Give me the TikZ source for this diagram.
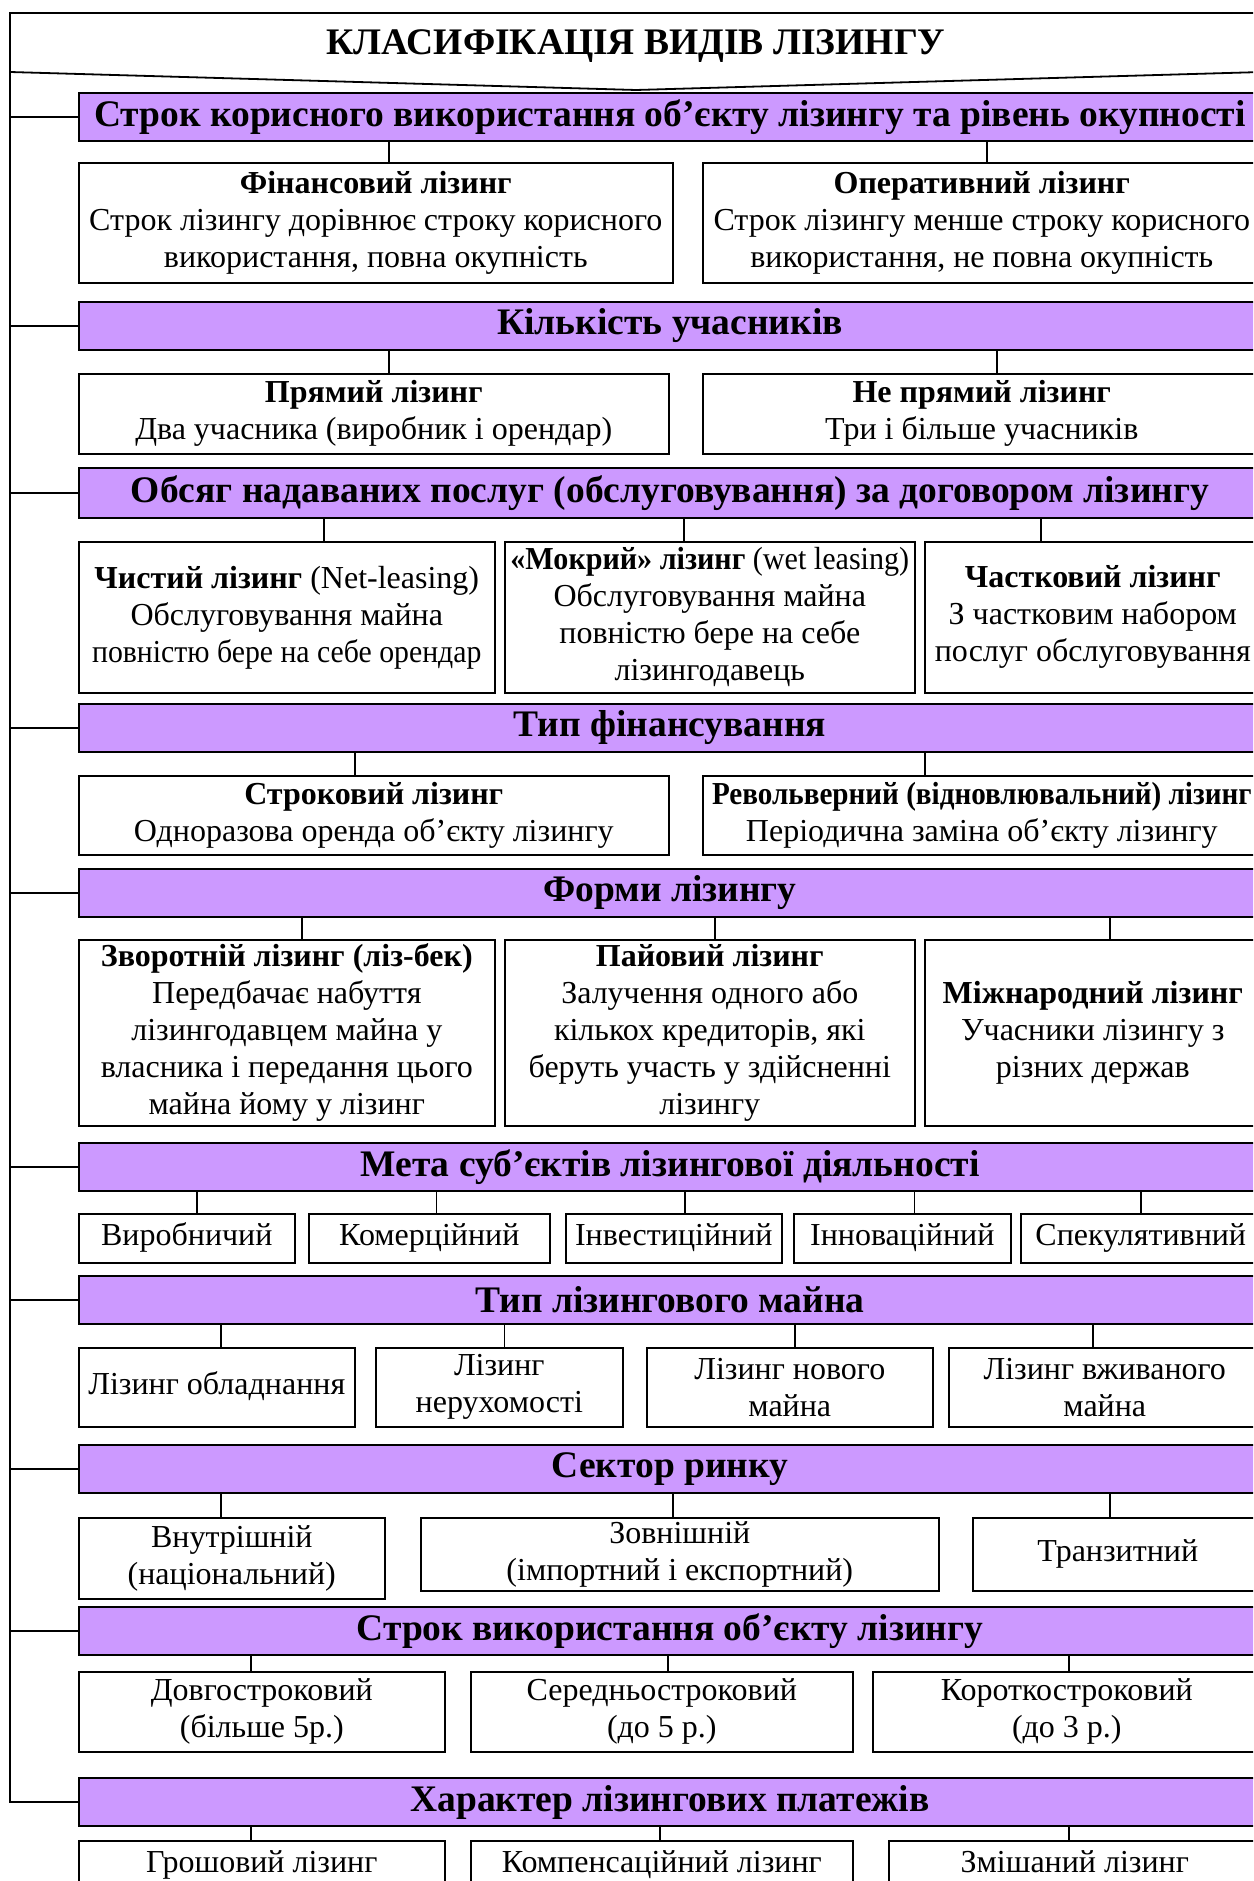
\documentclass[tikz,border=0pt]{standalone}
\usepackage{fontspec}
\setmainfont{Liberation Serif}
\definecolor{lilac}{HTML}{CC99FF}

\begin{document}
\begin{tikzpicture}[x=1pt,y=-1pt,
    hdr/.style={draw,line width=2pt,fill=lilac,anchor=north west,inner sep=0pt,
        minimum width=1182pt,minimum height=48pt,font=\fontsize{37.5}{43}\selectfont\bfseries},
    box/.style={draw,line width=1.6pt,anchor=north west,inner sep=0pt,align=center,
        font=\fontsize{32}{37}\selectfont},
    single/.style={text height=22pt,text depth=7pt},
    link/.style={line width=1.4pt}]
    \useasboundingbox (0,0) rectangle (1253,1881);
    \clip (0,0) rectangle (1253,1881);

    % title
    \draw[line width=1.8pt] (10,13) -- (1262,13) -- (1262,72) -- (636,90) -- (10,72) -- cycle;
    \node[anchor=base,font=\fontsize{37.5}{43}\selectfont\bfseries] (title) at (636,55) {КЛАСИФІКАЦІЯ ВИДІВ ЛІЗИНГУ};
    \coordinate (sp) at (10,72);

    % headers
    \node[hdr] (h1) at (78,92) {Строк корисного використання об’єкту лізингу та рівень окупності};
    \node[hdr] (h2) at (78,301) {Кількість учасників};
    \node[hdr,minimum height=50pt] (h3) at (78,467) {Обсяг надаваних послуг (обслуговування) за договором лізингу};
    \node[hdr] (h4) at (78,703) {Тип фінансування};
    \node[hdr] (h5) at (78,868) {Форми лізингу};
    \node[hdr] (h6) at (78,1142) {Мета суб’єктів лізингової діяльності};
    \node[hdr] (h7) at (78,1275) {Тип лізингового майна};
    \node[hdr] (h8) at (78,1444) {Сектор ринку};
    \node[hdr] (h9) at (78,1606) {Строк використання об’єкту лізингу};
    \node[hdr] (h10) at (78,1777) {Характер лізингових платежів};

    % spine
    \draw[link] (sp) |- (h10.west);
    \draw[link] (sp |- h1.west) -- (h1.west);
    \draw[link] (sp |- h2.west) -- (h2.west);
    \draw[link] (sp |- h3.west) -- (h3.west);
    \draw[link] (sp |- h4.west) -- (h4.west);
    \draw[link] (sp |- h5.west) -- (h5.west);
    \draw[link] (sp |- h6.west) -- (h6.west);
    \draw[link] (sp |- h7.west) -- (h7.west);
    \draw[link] (sp |- h8.west) -- (h8.west);
    \draw[link] (sp |- h9.west) -- (h9.west);

    % row 1
    \node[box,minimum width=594pt,minimum height=120pt] (a1) at (78,162) {\textbf{Фінансовий лізинг}\\Строк лізингу дорівнює строку корисного\\використання, повна окупність};
    \node[box,minimum width=558pt,minimum height=120pt] (a2) at (702,162) {\textbf{Оперативний лізинг}\\Строк лізингу менше строку корисного\\використання, не повна окупність};
    \draw[link] ([xshift=13pt]a1.north) -- ([xshift=13pt]a1.north |- h1.south);
    \draw[link] ([xshift=5pt]a2.north) -- ([xshift=5pt]a2.north |- h1.south);

    % row 2
    \node[box,minimum width=590pt,minimum height=80pt] (b1) at (78,373) {\textbf{Прямий лізинг}\\Два учасника (виробник і орендар)};
    \node[box,minimum width=558pt,minimum height=80pt] (b2) at (702,373) {\textbf{Не прямий лізинг}\\Три і більше учасників};
    \draw[link] ([xshift=15pt]b1.north) -- ([xshift=15pt]b1.north |- h2.south);
    \draw[link] ([xshift=15pt]b2.north) -- ([xshift=15pt]b2.north |- h2.south);

    % row 3
    \node[box,minimum width=416pt,minimum height=151pt] (c1) at (78,541) {\textbf{Чистий лізинг} (Net-leasing)\\Обслуговування майна\\\scalebox{0.93}[1]{повністю бере на себе орендар}};
    \node[box,minimum width=410pt,minimum height=151pt] (c2) at (504,541) {\scalebox{0.94}[1]{\textbf{«Мокрий» лізинг} (wet leasing)}\\Обслуговування майна\\повністю бере на себе\\лізингодавець};
    \node[box,minimum width=336pt,minimum height=151pt] (c3) at (924,541) {\textbf{Частковий лізинг}\\З частковим набором\\послуг обслуговування};
    \draw[link] ([xshift=37pt]c1.north) -- ([xshift=37pt]c1.north |- h3.south);
    \draw[link] ([xshift=-26pt]c2.north) -- ([xshift=-26pt]c2.north |- h3.south);
    \draw[link] ([xshift=-52pt]c3.north) -- ([xshift=-52pt]c3.north |- h3.south);

    % row 4
    \node[box,minimum width=590pt,minimum height=79pt] (d1) at (78,775) {\textbf{Строковий лізинг}\\Одноразова оренда об’єкту лізингу};
    \node[box,minimum width=558pt,minimum height=79pt] (d2) at (702,775) {\scalebox{0.91}[1]{\textbf{Револьверний (відновлювальний) лізинг}}\\Періодична заміна об’єкту лізингу};
    \draw[link] ([xshift=-19pt]d1.north) -- ([xshift=-19pt]d1.north |- h4.south);
    \draw[link] ([xshift=-57pt]d2.north) -- ([xshift=-57pt]d2.north |- h4.south);

    % row 5
    \node[box,minimum width=416pt,minimum height=186pt] (e1) at (78,939) {\textbf{Зворотній лізинг (ліз-бек)}\\Передбачає набуття\\лізингодавцем майна у\\власника і передання цього\\майна йому у лізинг};
    \node[box,minimum width=410pt,minimum height=186pt] (e2) at (504,939) {\textbf{Пайовий лізинг}\\Залучення одного або\\кількох кредиторів, які\\беруть участь у здійсненні\\лізингу};
    \node[box,minimum width=336pt,minimum height=186pt] (e3) at (924,939) {\textbf{Міжнародний лізинг}\\Учасники лізингу з\\різних держав};
    \draw[link] ([xshift=15pt]e1.north) -- ([xshift=15pt]e1.north |- h5.south);
    \draw[link] ([xshift=5pt]e2.north) -- ([xshift=5pt]e2.north |- h5.south);
    \draw[link] ([xshift=17pt]e3.north) -- ([xshift=17pt]e3.north |- h5.south);

    % row 6
    \node[box,single,minimum width=216pt,minimum height=49pt] (f1) at (78,1213) {Виробничий};
    \node[box,single,minimum width=241pt,minimum height=49pt] (f2) at (308,1213) {Комерційний};
    \node[box,single,minimum width=216pt,minimum height=49pt] (f3) at (565,1213) {Інвестиційний};
    \node[box,single,minimum width=217pt,minimum height=49pt] (f4) at (793,1213) {Інноваційний};
    \node[box,single,minimum width=240pt,minimum height=49pt] (f5) at (1020,1213) {Спекулятивний};
    \draw[link] ([xshift=10pt]f1.north) -- ([xshift=10pt]f1.north |- h6.south);
    \draw[link] ([xshift=7pt]f2.north) -- ([xshift=7pt]f2.north |- h6.south);
    \draw[link] ([xshift=11pt]f3.north) -- ([xshift=11pt]f3.north |- h6.south);
    \draw[link] ([xshift=12pt]f4.north) -- ([xshift=12pt]f4.north |- h6.south);
    \draw[link] (f5.north) -- (f5.north |- h6.south);

    % row 7
    \node[box,single,minimum width=276pt,minimum height=79pt] (g1) at (78,1347) {Лізинг обладнання};
    \node[box,minimum width=247pt,minimum height=79pt] (g2) at (375,1347) {Лізинг\\нерухомості};
    \node[box,minimum width=286pt,minimum height=79pt] (g3) at (646,1347) {Лізинг нового\\майна};
    \node[box,minimum width=312pt,minimum height=79pt] (g4) at (948,1347) {Лізинг вживаного\\майна};
    \draw[link] ([xshift=4pt]g1.north) -- ([xshift=4pt]g1.north |- h7.south);
    \draw[link] ([xshift=5pt]g2.north) -- ([xshift=5pt]g2.north |- h7.south);
    \draw[link] ([xshift=5pt]g3.north) -- ([xshift=5pt]g3.north |- h7.south);
    \draw[link] ([xshift=-12pt]g4.north) -- ([xshift=-12pt]g4.north |- h7.south);

    % row 8
    \node[box,minimum width=306pt,minimum height=81pt] (k1) at (78,1517) {Внутрішній\\(національний)};
    \node[box,minimum width=518pt,minimum height=73pt] (k2) at (420,1517) {Зовнішній\\(імпортний і експортний)};
    \node[box,single,minimum width=290pt,minimum height=73pt] (k3) at (972,1517) {Транзитний};
    \draw[link] ([xshift=-11pt]k1.north) -- ([xshift=-11pt]k1.north |- h8.south);
    \draw[link] ([xshift=-7pt]k2.north) -- ([xshift=-7pt]k2.north |- h8.south);
    \draw[link] ([xshift=-8pt]k3.north) -- ([xshift=-8pt]k3.north |- h8.south);

    % row 9
    \node[box,minimum width=366pt,minimum height=80pt] (l1) at (78,1671) {Довгостроковий\\(більше 5р.)};
    \node[box,minimum width=382pt,minimum height=80pt] (l2) at (470,1671) {Середньостроковий\\(до 5 р.)};
    \node[box,minimum width=388pt,minimum height=80pt] (l3) at (872,1671) {Короткостроковий\\(до 3 р.)};
    \draw[link] ([xshift=-11pt]l1.north) -- ([xshift=-11pt]l1.north |- h9.south);
    \draw[link] ([xshift=6pt]l2.north) -- ([xshift=6pt]l2.north |- h9.south);
    \draw[link] ([xshift=2pt]l3.north) -- ([xshift=2pt]l3.north |- h9.south);

    % row 10
    \node[box,single,minimum width=366pt,minimum height=49pt] (m1) at (78,1840) {Грошовий лізинг};
    \node[box,single,minimum width=382pt,minimum height=49pt] (m2) at (470,1840) {Компенсаційний лізинг};
    \node[box,single,minimum width=372pt,minimum height=49pt] (m3) at (888,1840) {Змішаний лізинг};
    \draw[link] ([xshift=-11pt]m1.north) -- ([xshift=-11pt]m1.north |- h10.south);
    \draw[link] ([xshift=-2pt]m2.north) -- ([xshift=-2pt]m2.north |- h10.south);
    \draw[link] ([xshift=-6pt]m3.north) -- ([xshift=-6pt]m3.north |- h10.south);
\end{tikzpicture}
\end{document}
